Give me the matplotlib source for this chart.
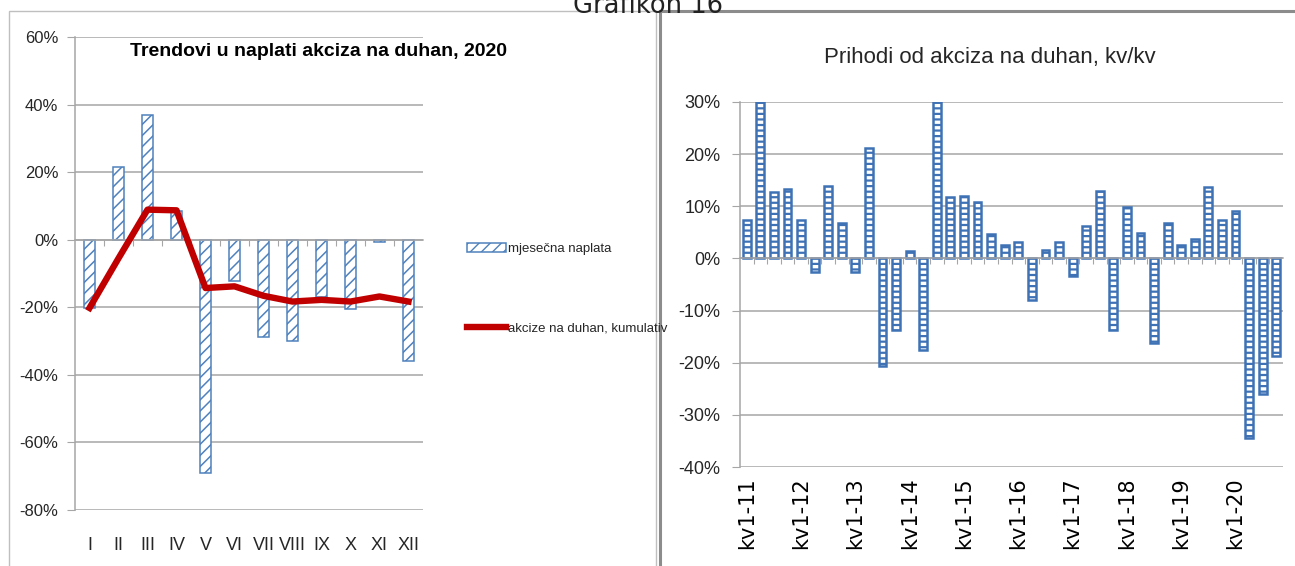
import matplotlib
matplotlib.use("Agg")
import matplotlib.pyplot as plt
import matplotlib.transforms as mtransforms
from matplotlib.patches import Rectangle
from matplotlib.lines import Line2D
from matplotlib.patches import Patch
from matplotlib.ticker import FuncFormatter, FixedLocator
import numpy as np

# ---------------- data ----------------
months = ['I', 'II', 'III', 'IV', 'V', 'VI', 'VII', 'VIII', 'IX', 'X', 'XI', 'XII']
monthly_collection = [-20.1, 21.5, 36.8, 8.5, -69.1, -12.3, -28.9, -30.1, -17.0, -20.5, -0.7, -35.9]
cumulative = [-20.2, -5.5, 8.9, 8.7, -14.3, -13.8, -16.6, -18.3, -17.8, -18.3, -16.8, -18.3]

years = ['11', '12', '13', '14', '15', '16', '17', '18', '19', '20']
quarter_labels = [f'kv{q}-{y}' for y in years for q in (1, 2, 3, 4)]
qoq = [7.4, 30.0, 12.8, 13.3, 7.4, -2.6, 13.9, 6.7, -2.6, 21.2,
       -20.7, -13.7, 1.5, -17.6, 30.0, 11.8, 12.0, 10.8, 4.6, 2.6,
       3.1, -8.0, 1.6, 3.1, -3.4, 6.2, 13.0, -13.7, 9.9, 4.8,
       -16.2, 6.7, 2.6, 3.7, 13.7, 7.4, 9.1, -34.5, -26.0, -18.8]

left_title = 'Trendovi u naplati akciza na duhan, 2020'
right_title = 'Prihodi od akciza na duhan, kv/kv'
fig_title = 'Grafikon 16'
legend_labels = ['mjesečna naplata', 'akcize na duhan, kumulativ']

# ---------------- style ----------------
NARROW = ['Liberation Sans Narrow', 'Liberation Sans', 'DejaVu Sans']
SANS = ['Liberation Sans', 'DejaVu Sans']
BLUE = '#4f81bd'
BLUE2 = '#3f72b5'
RED = '#c00000'
GRID = '#a6a6a6'
TXT = '#262626'

W, H = 1295, 566
fig = plt.figure(figsize=(W / 100, H / 100), dpi=100)

def fx(px):
    return px / W

def fy(py):
    return 1 - py / H

# panel frames
fig.add_artist(Rectangle((fx(9), fy(600)), fx(656) - fx(9), fy(11) - fy(600),
                         transform=fig.transFigure, fill=False, edgecolor='#bfbfbf', lw=1.0))
fig.add_artist(Rectangle((fx(660), fy(600)), fx(1340) - fx(660), fy(11) - fy(600),
                         transform=fig.transFigure, fill=False, edgecolor='#8c8c8c', lw=2.2))
fig.text(fx(648), fy(13), fig_title, ha='center', va='baseline', fontsize=18.5,
         family=['DejaVu Sans'], color='#222222')

pct = FuncFormatter(lambda v, p: f'{v:.0f}%')

def set_hlw(container, lw):
    for p in container:
        if hasattr(p, 'set_hatch_linewidth'):
            p.set_hatch_linewidth(lw)

# ---------------- left chart ----------------
axL = fig.add_axes([fx(75), fy(510), fx(423) - fx(75), fy(37) - fy(510)])
xL = np.arange(len(months))
with plt.rc_context({'hatch.linewidth': 1.1}):
    barsL = axL.bar(xL, monthly_collection, width=0.4, facecolor='white', edgecolor=BLUE,
                    hatch='///', lw=1.1, zorder=2)
set_hlw(barsL, 1.1)
axL.plot(xL, cumulative, color=RED, lw=4.6, solid_joinstyle='round', zorder=3)
axL.set_xlim(-0.5, len(months) - 0.5)
axL.set_ylim(-80, 60)
axL.yaxis.set_major_locator(FixedLocator(np.arange(-80, 61, 20)))
axL.yaxis.set_major_formatter(pct)
axL.grid(axis='y', color=GRID, lw=1.1, zorder=0)
axL.set_axisbelow(True)
for s in ['top', 'right']:
    axL.spines[s].set_visible(False)
axL.spines['left'].set_color(GRID)
axL.spines['left'].set_linewidth(1.1)
axL.spines['bottom'].set_position(('data', 0))
axL.spines['bottom'].set_color(GRID)
axL.spines['bottom'].set_linewidth(1.1)
axL.xaxis.set_major_locator(FixedLocator(xL[:-1] + 0.5))
axL.tick_params(axis='x', direction='out', length=4, color=GRID, labelbottom=False)
axL.tick_params(axis='y', direction='out', length=6, color=GRID, pad=6,
                labelsize=12, labelcolor=TXT)
for lab in axL.get_yticklabels():
    lab.set_family(NARROW)
tr = mtransforms.blended_transform_factory(axL.transData, axL.transAxes)
for i, m in enumerate(months):
    axL.text(i, -0.074, m, transform=tr, ha='center', va='center', fontsize=13,
             family=NARROW, color=TXT)
fig.text(fx(319), fy(52), left_title, ha='center', va='center', fontsize=14,
         fontweight='bold', family=NARROW, color='black')
handles = [Patch(facecolor='white', edgecolor=BLUE, hatch='///', lw=1.1),
           Line2D([0], [0], color=RED, lw=4.6)]
fig.legend(handles, legend_labels, loc='center left',
           bbox_to_anchor=(fx(462), fy(289)), frameon=False,
           prop={'family': NARROW, 'size': 9.5}, labelspacing=5.1,
           handlelength=2.9, handletextpad=0.15, borderaxespad=0, labelcolor=TXT)

# ---------------- right chart ----------------
axR = fig.add_axes([fx(740), fy(467), fx(1283) - fx(740), fy(102) - fy(467)])
xR = np.arange(len(qoq))
with plt.rc_context({'hatch.linewidth': 1.6}):
    barsR = axR.bar(xR, qoq, width=0.58, facecolor='white', edgecolor=BLUE2, hatch='---',
                    lw=1.8, zorder=2)
set_hlw(barsR, 1.6)
axR.set_xlim(-0.5, len(qoq) - 0.5)
axR.set_ylim(-40, 30)
axR.yaxis.set_major_locator(FixedLocator(np.arange(-40, 31, 10)))
axR.yaxis.set_major_formatter(pct)
axR.grid(axis='y', color=GRID, lw=1.1, zorder=0)
axR.set_axisbelow(True)
for s in ['top', 'right']:
    axR.spines[s].set_visible(False)
axR.spines['left'].set_color(GRID)
axR.spines['left'].set_linewidth(1.1)
axR.spines['bottom'].set_position(('data', 0))
axR.spines['bottom'].set_color(GRID)
axR.spines['bottom'].set_linewidth(1.1)
axR.xaxis.set_major_locator(FixedLocator(xR[:-1] + 0.5))
axR.tick_params(axis='x', direction='out', length=4, color=GRID, labelbottom=False)
axR.tick_params(axis='y', direction='out', length=6, color=GRID, pad=8,
                labelsize=13, labelcolor=TXT)
for lab in axR.get_yticklabels():
    lab.set_family(SANS)
trR = mtransforms.blended_transform_factory(axR.transData, axR.transAxes)
for i, lab in enumerate(quarter_labels):
    if lab.startswith('kv1-'):
        axR.text(i, -0.028, lab, transform=trR, ha='center', va='top', rotation=90,
                 fontsize=15, family=['DejaVu Sans'], color='black')
fig.text(fx(990), fy(57), right_title, ha='center', va='center', fontsize=16,
         family=SANS, color=TXT)

fig.savefig('out.png', dpi=100)
